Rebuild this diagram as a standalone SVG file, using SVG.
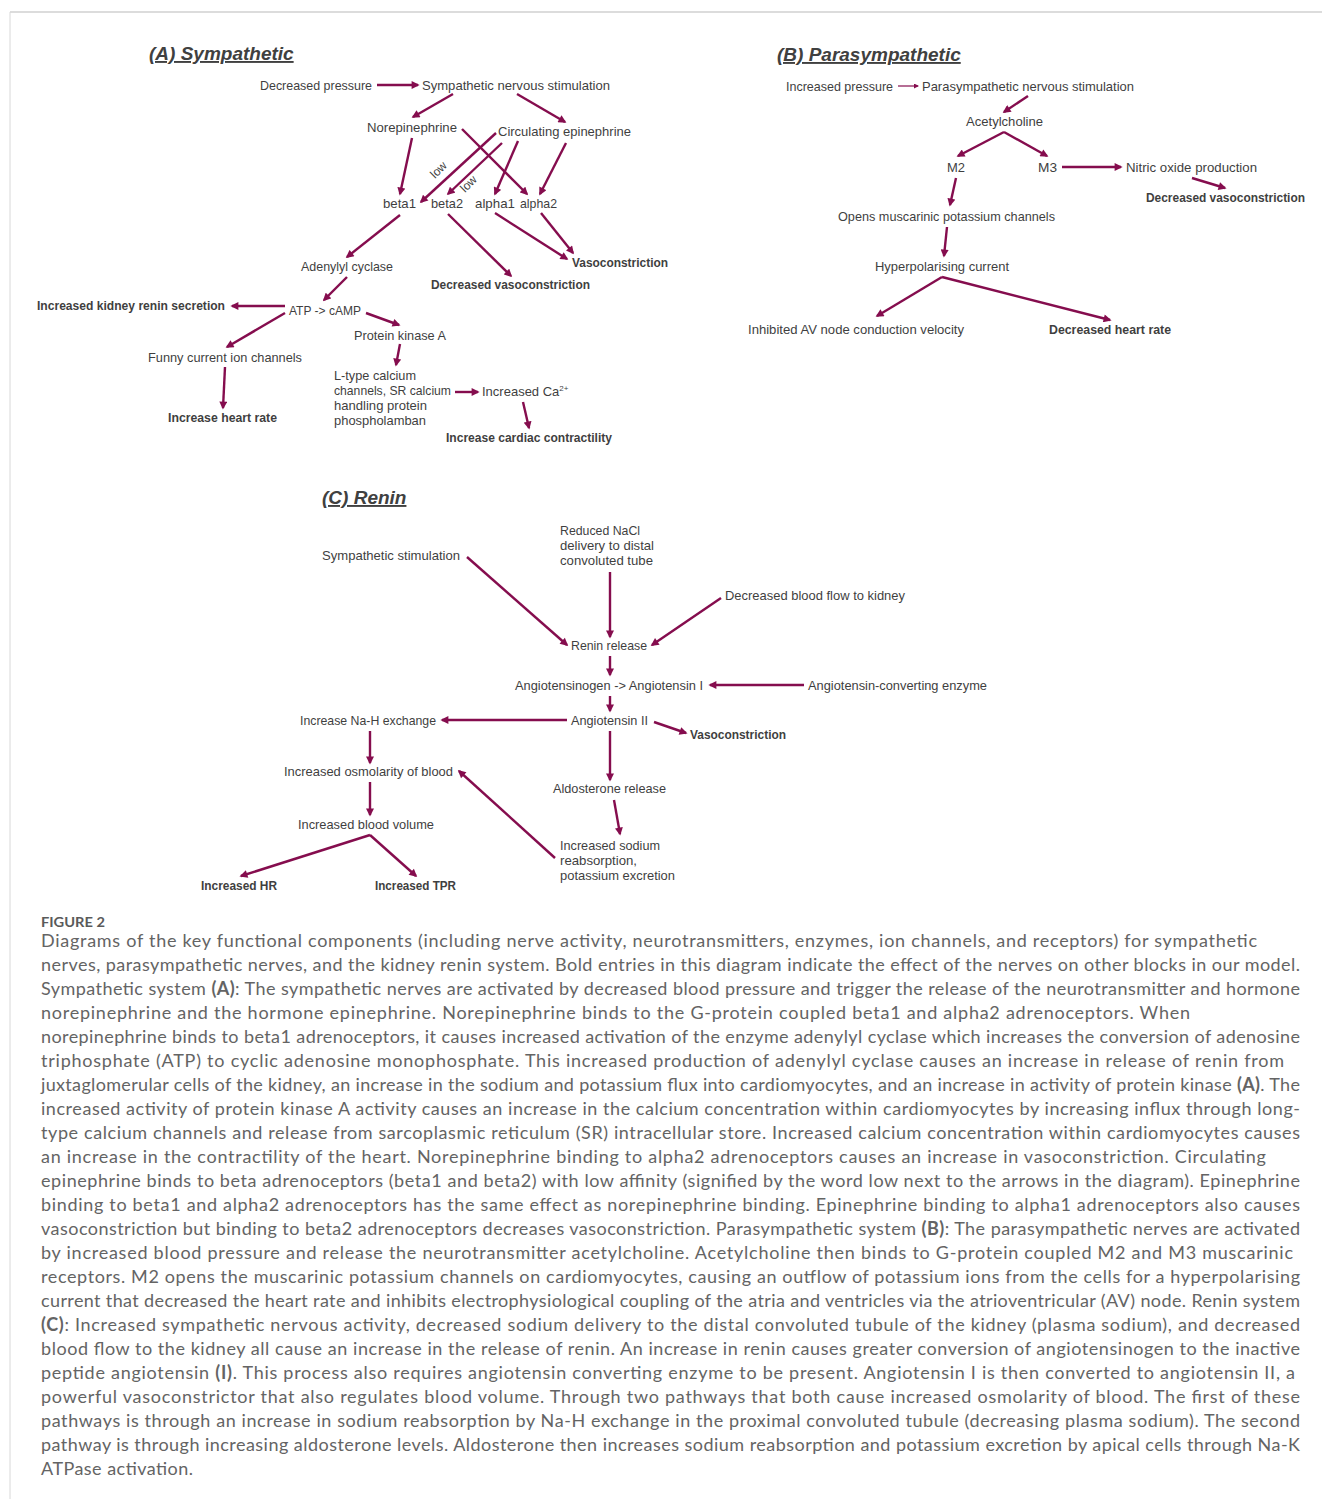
<svg xmlns="http://www.w3.org/2000/svg" width="1322" height="1499" viewBox="0 0 1322 1499">
<defs>
<marker id="ah" viewBox="0 0 10 10" refX="8" refY="5" markerWidth="9" markerHeight="8" markerUnits="userSpaceOnUse" orient="auto"><path d="M0,0 L10,5 L0,10 z" fill="#850D4E"/></marker>
<marker id="ahs" viewBox="0 0 10 10" refX="8" refY="5" markerWidth="6" markerHeight="5" markerUnits="userSpaceOnUse" orient="auto"><path d="M0,0 L10,5 L0,10 z" fill="#850D4E"/></marker>
<style>
.t{font-family:"Liberation Sans",Arial,sans-serif;font-size:13px;fill:#3f3f3f}
.b{font-weight:bold;font-size:12px}
.h{font-family:"Liberation Sans",Arial,sans-serif;font-size:19px;font-weight:bold;font-style:italic;text-decoration:underline;fill:#404040}
.lw{font-size:12px}
.a{stroke:#850D4E;stroke-width:2.4;fill:none;marker-end:url(#ah)}
.as{stroke:#850D4E;stroke-width:1.2;fill:none;marker-end:url(#ahs)}
.cap{font-family:Lato,"Liberation Sans",sans-serif;font-size:18px;fill:#646464}
.fig{font-family:Lato,"Liberation Sans",sans-serif;font-size:14px;font-weight:bold;fill:#5a5a5a}
</style>
</defs>
<rect width="1322" height="1499" fill="#fff"/>
<g id="frame"><line x1="10" y1="12" x2="1322" y2="12" stroke="#d0d0d0" stroke-width="1.5"/><line x1="10" y1="12" x2="10" y2="1499" stroke="#d8d8d8" stroke-width="1"/></g>

<g id="titles">
<text class="h" x="149" y="60">(A) Sympathetic</text>
<text class="h" x="777" y="61">(B) Parasympathetic</text>
<text class="h" x="322" y="504">(C) Renin</text>
</g>

<g id="connectors">
<!-- A -->
<line class="a" x1="377" y1="85" x2="418" y2="85"/>
<line class="a" x1="453" y1="94" x2="413" y2="117"/>
<line class="a" x1="517" y1="94" x2="565" y2="122"/>
<line class="a" x1="412" y1="138" x2="400" y2="194"/>
<line class="a" x1="462" y1="129" x2="527" y2="194"/>
<line class="a" x1="496" y1="133" x2="421" y2="202"/>
<line class="a" x1="502" y1="143" x2="448" y2="194"/>
<line class="a" x1="518" y1="141" x2="495" y2="194"/>
<line class="a" x1="566" y1="143" x2="540" y2="194"/>
<line class="a" x1="400" y1="215" x2="347" y2="257"/>
<line class="a" x1="448" y1="214" x2="511" y2="276"/>
<line class="a" x1="495" y1="213" x2="567" y2="259"/>
<line class="a" x1="541" y1="213" x2="573" y2="253"/>
<line class="a" x1="347" y1="277" x2="324" y2="300"/>
<line class="a" x1="285" y1="306" x2="232" y2="306"/>
<line class="a" x1="285" y1="313" x2="227" y2="347"/>
<line class="a" x1="366" y1="313" x2="399" y2="325"/>
<line class="a" x1="400" y1="344" x2="396" y2="365"/>
<line class="a" x1="225" y1="367" x2="223" y2="408"/>
<line class="a" x1="455" y1="392" x2="478" y2="392"/>
<line class="a" x1="523" y1="402" x2="529" y2="428"/>
<!-- B -->
<line class="as" x1="898" y1="86" x2="918" y2="86"/>
<line class="a" x1="1028" y1="96" x2="1004" y2="112"/>
<line class="a" x1="1004" y1="132" x2="958" y2="156"/>
<line class="a" x1="1004" y1="132" x2="1047" y2="156"/>
<line class="a" x1="1062" y1="167" x2="1121" y2="167"/>
<line class="a" x1="1192" y1="178" x2="1225" y2="188"/>
<line class="a" x1="956" y1="178" x2="950" y2="205"/>
<line class="a" x1="947" y1="227" x2="944" y2="256"/>
<line class="a" x1="942" y1="277" x2="877" y2="316"/>
<line class="a" x1="942" y1="277" x2="1110" y2="320"/>
<!-- C -->
<line class="a" x1="467" y1="557" x2="567" y2="645"/>
<line class="a" x1="610" y1="572" x2="610" y2="637"/>
<line class="a" x1="721" y1="598" x2="652" y2="645"/>
<line class="a" x1="610" y1="656" x2="610" y2="675"/>
<line class="a" x1="804" y1="685" x2="710" y2="685"/>
<line class="a" x1="610" y1="696" x2="610" y2="711"/>
<line class="a" x1="654" y1="722" x2="686" y2="733"/>
<line class="a" x1="567" y1="720" x2="442" y2="720"/>
<line class="a" x1="610" y1="731" x2="610" y2="780"/>
<line class="a" x1="614" y1="800" x2="620" y2="834"/>
<line class="a" x1="555" y1="858" x2="459" y2="771"/>
<line class="a" x1="370" y1="731" x2="370" y2="763"/>
<line class="a" x1="370" y1="782" x2="370" y2="815"/>
<line class="a" x1="370" y1="835" x2="241" y2="876"/>
<line class="a" x1="370" y1="835" x2="416" y2="876"/>
</g>

<g id="labels-low">
<text class="t lw" transform="translate(435,179) rotate(-45)">low</text>
<text class="t lw" transform="translate(465,193) rotate(-45)">low</text>
</g>

<!-- Panel A nodes -->
<g id="a-decreased-pressure"><text class="t" x="260" y="89.5" textLength="112" lengthAdjust="spacingAndGlyphs">Decreased pressure</text></g>
<g id="a-sympathetic-stim"><text class="t" x="422" y="89.5" textLength="188" lengthAdjust="spacingAndGlyphs">Sympathetic nervous stimulation</text></g>
<g id="a-norepinephrine"><text class="t" x="367" y="131.5" textLength="90" lengthAdjust="spacingAndGlyphs">Norepinephrine</text></g>
<g id="a-circ-epinephrine"><text class="t" x="498" y="135.5" textLength="133" lengthAdjust="spacingAndGlyphs">Circulating epinephrine</text></g>
<g id="a-beta1"><text class="t" x="383" y="207.5" textLength="33" lengthAdjust="spacingAndGlyphs">beta1</text></g>
<g id="a-beta2"><text class="t" x="431" y="207.5" textLength="32" lengthAdjust="spacingAndGlyphs">beta2</text></g>
<g id="a-alpha1"><text class="t" x="475" y="207.5" textLength="40" lengthAdjust="spacingAndGlyphs">alpha1</text></g>
<g id="a-alpha2"><text class="t" x="520" y="207.5" textLength="37" lengthAdjust="spacingAndGlyphs">alpha2</text></g>
<g id="a-vasoconstriction"><text class="t b" x="572" y="266.5" textLength="96" lengthAdjust="spacingAndGlyphs">Vasoconstriction</text></g>
<g id="a-decreased-vaso"><text class="t b" x="431" y="288.5" textLength="159" lengthAdjust="spacingAndGlyphs">Decreased vasoconstriction</text></g>
<g id="a-adenylyl"><text class="t" x="301" y="270.5" textLength="92" lengthAdjust="spacingAndGlyphs">Adenylyl cyclase</text></g>
<g id="a-atp"><text class="t" x="289" y="314.5" textLength="72" lengthAdjust="spacingAndGlyphs">ATP -&gt; cAMP</text></g>
<g id="a-renin-secretion"><text class="t b" x="37" y="309.5" textLength="188" lengthAdjust="spacingAndGlyphs">Increased kidney renin secretion</text></g>
<g id="a-pka"><text class="t" x="354" y="339.5" textLength="92" lengthAdjust="spacingAndGlyphs">Protein kinase A</text></g>
<g id="a-funny"><text class="t" x="148" y="361.5" textLength="154" lengthAdjust="spacingAndGlyphs">Funny current ion channels</text></g>
<g id="a-heart-rate"><text class="t b" x="168" y="421.5" textLength="109" lengthAdjust="spacingAndGlyphs">Increase heart rate</text></g>
<g id="a-ltype"><text class="t" x="334" y="379.5" textLength="82" lengthAdjust="spacingAndGlyphs">L-type calcium</text><text class="t" x="334" y="394.5" textLength="117" lengthAdjust="spacingAndGlyphs">channels, SR calcium</text><text class="t" x="334" y="409.5" textLength="93" lengthAdjust="spacingAndGlyphs">handling protein</text><text class="t" x="334" y="424.5" textLength="92" lengthAdjust="spacingAndGlyphs">phospholamban</text></g>
<g id="a-ca"><text class="t" x="482" y="395.5">Increased Ca<tspan font-size="8" dy="-5">2+</tspan></text></g>
<g id="a-contractility"><text class="t b" x="446" y="441.5" textLength="166" lengthAdjust="spacingAndGlyphs">Increase cardiac contractility</text></g>

<!-- Panel B nodes -->
<g id="b-increased-pressure"><text class="t" x="786" y="90.5" textLength="107" lengthAdjust="spacingAndGlyphs">Increased pressure</text></g>
<g id="b-para-stim"><text class="t" x="922" y="90.5" textLength="212" lengthAdjust="spacingAndGlyphs">Parasympathetic nervous stimulation</text></g>
<g id="b-ach"><text class="t" x="966" y="125.5" textLength="77" lengthAdjust="spacingAndGlyphs">Acetylcholine</text></g>
<g id="b-m2"><text class="t" x="947" y="171.5" textLength="18" lengthAdjust="spacingAndGlyphs">M2</text></g>
<g id="b-m3"><text class="t" x="1038" y="171.5" textLength="19" lengthAdjust="spacingAndGlyphs">M3</text></g>
<g id="b-no"><text class="t" x="1126" y="171.5" textLength="131" lengthAdjust="spacingAndGlyphs">Nitric oxide production</text></g>
<g id="b-decreased-vaso"><text class="t b" x="1146" y="201.5" textLength="159" lengthAdjust="spacingAndGlyphs">Decreased vasoconstriction</text></g>
<g id="b-opens"><text class="t" x="838" y="220.5" textLength="217" lengthAdjust="spacingAndGlyphs">Opens muscarinic potassium channels</text></g>
<g id="b-hyper"><text class="t" x="875" y="270.5" textLength="134" lengthAdjust="spacingAndGlyphs">Hyperpolarising current</text></g>
<g id="b-av"><text class="t" x="748" y="333.5" textLength="216" lengthAdjust="spacingAndGlyphs">Inhibited AV node conduction velocity</text></g>
<g id="b-hr"><text class="t b" x="1049" y="333.5" textLength="122" lengthAdjust="spacingAndGlyphs">Decreased heart rate</text></g>

<!-- Panel C nodes -->
<g id="c-symp"><text class="t" x="322" y="559.5" textLength="138" lengthAdjust="spacingAndGlyphs">Sympathetic stimulation</text></g>
<g id="c-nacl"><text class="t" x="560" y="534.5" textLength="80" lengthAdjust="spacingAndGlyphs">Reduced NaCl</text><text class="t" x="560" y="549.5" textLength="94" lengthAdjust="spacingAndGlyphs">delivery to distal</text><text class="t" x="560" y="564.5" textLength="93" lengthAdjust="spacingAndGlyphs">convoluted tube</text></g>
<g id="c-bloodflow"><text class="t" x="725" y="599.5" textLength="180" lengthAdjust="spacingAndGlyphs">Decreased blood flow to kidney</text></g>
<g id="c-renin"><text class="t" x="571" y="649.5" textLength="76" lengthAdjust="spacingAndGlyphs">Renin release</text></g>
<g id="c-angI"><text class="t" x="515" y="689.5" textLength="188" lengthAdjust="spacingAndGlyphs">Angiotensinogen -&gt; Angiotensin I</text></g>
<g id="c-ace"><text class="t" x="808" y="689.5" textLength="179" lengthAdjust="spacingAndGlyphs">Angiotensin-converting enzyme</text></g>
<g id="c-angII"><text class="t" x="571" y="724.5" textLength="77" lengthAdjust="spacingAndGlyphs">Angiotensin II</text></g>
<g id="c-vaso"><text class="t b" x="690" y="738.5" textLength="96" lengthAdjust="spacingAndGlyphs">Vasoconstriction</text></g>
<g id="c-nah"><text class="t" x="300" y="724.5" textLength="136" lengthAdjust="spacingAndGlyphs">Increase Na-H exchange</text></g>
<g id="c-aldo"><text class="t" x="553" y="792.5" textLength="113" lengthAdjust="spacingAndGlyphs">Aldosterone release</text></g>
<g id="c-sodium"><text class="t" x="560" y="849.5" textLength="100" lengthAdjust="spacingAndGlyphs">Increased sodium</text><text class="t" x="560" y="864.5" textLength="77" lengthAdjust="spacingAndGlyphs">reabsorption,</text><text class="t" x="560" y="879.5" textLength="115" lengthAdjust="spacingAndGlyphs">potassium excretion</text></g>
<g id="c-osmo"><text class="t" x="284" y="775.5" textLength="169" lengthAdjust="spacingAndGlyphs">Increased osmolarity of blood</text></g>
<g id="c-volume"><text class="t" x="298" y="828.5" textLength="136" lengthAdjust="spacingAndGlyphs">Increased blood volume</text></g>
<g id="c-hr"><text class="t b" x="201" y="889.5" textLength="76" lengthAdjust="spacingAndGlyphs">Increased HR</text></g>
<g id="c-tpr"><text class="t b" x="375" y="889.5" textLength="81" lengthAdjust="spacingAndGlyphs">Increased TPR</text></g>

<g id="caption">
<text class="fig" x="41" y="927" textLength="64" lengthAdjust="spacingAndGlyphs">FIGURE 2</text>
<text class="cap" x="41" y="947" textLength="1216" lengthAdjust="spacing">Diagrams of the key functional components (including nerve activity, neurotransmitters, enzymes, ion channels, and receptors) for sympathetic</text>
<text class="cap" x="41" y="971" textLength="1259" lengthAdjust="spacing">nerves, parasympathetic nerves, and the kidney renin system. Bold entries in this diagram indicate the effect of the nerves on other blocks in our model.</text>
<text class="cap" x="41" y="995" textLength="1259" lengthAdjust="spacing">Sympathetic system <tspan font-weight="bold">(A)</tspan>: The sympathetic nerves are activated by decreased blood pressure and trigger the release of the neurotransmitter and hormone</text>
<text class="cap" x="41" y="1019" textLength="1149" lengthAdjust="spacing">norepinephrine and the hormone epinephrine. Norepinephrine binds to the G-protein coupled beta1 and alpha2 adrenoceptors. When</text>
<text class="cap" x="41" y="1043" textLength="1259" lengthAdjust="spacing">norepinephrine binds to beta1 adrenoceptors, it causes increased activation of the enzyme adenylyl cyclase which increases the conversion of adenosine</text>
<text class="cap" x="41" y="1067" textLength="1243" lengthAdjust="spacing">triphosphate (ATP) to cyclic adenosine monophosphate. This increased production of adenylyl cyclase causes an increase in release of renin from</text>
<text class="cap" x="41" y="1091" textLength="1259" lengthAdjust="spacing">juxtaglomerular cells of the kidney, an increase in the sodium and potassium flux into cardiomyocytes, and an increase in activity of protein kinase <tspan font-weight="bold">(A)</tspan>. The</text>
<text class="cap" x="41" y="1115" textLength="1259" lengthAdjust="spacing">increased activity of protein kinase A activity causes an increase in the calcium concentration within cardiomyocytes by increasing influx through long-</text>
<text class="cap" x="41" y="1139" textLength="1259" lengthAdjust="spacing">type calcium channels and release from sarcoplasmic reticulum (SR) intracellular store. Increased calcium concentration within cardiomyocytes causes</text>
<text class="cap" x="41" y="1163" textLength="1225" lengthAdjust="spacing">an increase in the contractility of the heart. Norepinephrine binding to alpha2 adrenoceptors causes an increase in vasoconstriction. Circulating</text>
<text class="cap" x="41" y="1187" textLength="1259" lengthAdjust="spacing">epinephrine binds to beta adrenoceptors (beta1 and beta2) with low affinity (signified by the word low next to the arrows in the diagram). Epinephrine</text>
<text class="cap" x="41" y="1211" textLength="1259" lengthAdjust="spacing">binding to beta1 and alpha2 adrenoceptors has the same effect as norepinephrine binding. Epinephrine binding to alpha1 adrenoceptors also causes</text>
<text class="cap" x="41" y="1235" textLength="1259" lengthAdjust="spacing">vasoconstriction but binding to beta2 adrenoceptors decreases vasoconstriction. Parasympathetic system <tspan font-weight="bold">(B)</tspan>: The parasympathetic nerves are activated</text>
<text class="cap" x="41" y="1259" textLength="1252" lengthAdjust="spacing">by increased blood pressure and release the neurotransmitter acetylcholine. Acetylcholine then binds to G-protein coupled M2 and M3 muscarinic</text>
<text class="cap" x="41" y="1283" textLength="1259" lengthAdjust="spacing">receptors. M2 opens the muscarinic potassium channels on cardiomyocytes, causing an outflow of potassium ions from the cells for a hyperpolarising</text>
<text class="cap" x="41" y="1307" textLength="1259" lengthAdjust="spacing">current that decreased the heart rate and inhibits electrophysiological coupling of the atria and ventricles via the atrioventricular (AV) node. Renin system</text>
<text class="cap" x="41" y="1331" textLength="1259" lengthAdjust="spacing"><tspan font-weight="bold">(C)</tspan>: Increased sympathetic nervous activity, decreased sodium delivery to the distal convoluted tubule of the kidney (plasma sodium), and decreased</text>
<text class="cap" x="41" y="1355" textLength="1259" lengthAdjust="spacing">blood flow to the kidney all cause an increase in the release of renin. An increase in renin causes greater conversion of angiotensinogen to the inactive</text>
<text class="cap" x="41" y="1379" textLength="1254" lengthAdjust="spacing">peptide angiotensin <tspan font-weight="bold">(I)</tspan>. This process also requires angiotensin converting enzyme to be present. Angiotensin I is then converted to angiotensin II, a</text>
<text class="cap" x="41" y="1403" textLength="1259" lengthAdjust="spacing">powerful vasoconstrictor that also regulates blood volume. Through two pathways that both cause increased osmolarity of blood. The first of these</text>
<text class="cap" x="41" y="1427" textLength="1259" lengthAdjust="spacing">pathways is through an increase in sodium reabsorption by Na-H exchange in the proximal convoluted tubule (decreasing plasma sodium). The second</text>
<text class="cap" x="41" y="1451" textLength="1259" lengthAdjust="spacing">pathway is through increasing aldosterone levels. Aldosterone then increases sodium reabsorption and potassium excretion by apical cells through Na-K</text>
<text class="cap" x="41" y="1475" textLength="152" lengthAdjust="spacing">ATPase activation.</text>
</g>
</svg>
